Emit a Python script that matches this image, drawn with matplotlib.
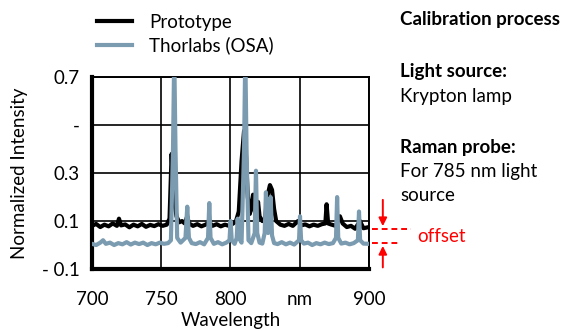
import matplotlib
matplotlib.use("Agg")
import matplotlib.pyplot as plt

plt.rcParams['font.family'] = ['Lato', 'DejaVu Sans']

# spectra (wavelength nm, normalized intensity)
proto_wl = [700, 703, 706, 709, 712, 715, 718, 719.5, 721, 724, 727, 730, 733, 736, 739,
            742, 745, 748, 751, 754, 756, 757.5, 759, 761, 763, 765, 767, 768.8, 770, 773,
            776, 779, 782, 784.7, 787, 790, 793, 796, 799, 802, 804, 806, 808, 809.8, 811,
            812.5, 814, 816.3, 817.5, 819, 819.9, 821, 823, 825, 826.5, 828.5, 830, 831.5,
            833, 836, 839, 842, 845, 848.7, 851, 854, 857, 860, 863, 866, 868.5, 869.4,
            870.5, 873, 876, 879, 881, 884, 887, 890, 893.5, 896, 900]
proto_int = [0.08, 0.088, 0.075, 0.085, 0.078, 0.09, 0.08, 0.11, 0.082, 0.086, 0.074, 0.085,
             0.078, 0.088, 0.076, 0.084, 0.079, 0.087, 0.08, 0.085, 0.11, 0.38, 0.2, 0.12,
             0.095, 0.1, 0.09, 0.12, 0.09, 0.08, 0.087, 0.078, 0.085, 0.095, 0.08, 0.087,
             0.078, 0.085, 0.08, 0.09, 0.1, 0.14, 0.35, 0.476, 0.4, 0.2, 0.13, 0.21, 0.14,
             0.12, 0.18, 0.12, 0.1, 0.11, 0.2, 0.25, 0.23, 0.15, 0.1, 0.085, 0.08, 0.088,
             0.08, 0.1, 0.082, 0.086, 0.078, 0.085, 0.08, 0.087, 0.09, 0.17, 0.09, 0.085,
             0.08, 0.12, 0.09, 0.075, 0.08, 0.068, 0.1, 0.07, 0.075]

osa_wl = [700, 703, 706, 708, 710, 713, 716, 719, 722, 725, 728, 731, 734, 737, 740, 743,
          746, 749, 752, 755, 757, 758.5, 759.4, 760.3, 761.5, 764, 767.5, 768.8, 770, 772,
          775, 778, 781, 783.8, 784.7, 785.6, 788, 791, 794, 797, 799.3, 800.1, 800.9, 803,
          804.5, 805.2, 806, 808, 809.8, 810.7, 811.6, 813, 815, 817.5, 818.4, 819.3, 821,
          823, 824.7, 825.6, 826.5, 827.2, 829, 830, 831.5, 834, 837, 840, 843, 846, 849.5,
          850.2, 851, 853, 856, 859, 862, 865, 868, 871, 874, 876.2, 877, 877.8, 880, 883,
          886, 889, 892, 892.8, 893.6, 896, 900]
osa_int = [0.005, 0.0, 0.01, 0.02, 0.005, 0.01, 0.0, 0.008, 0.003, 0.012, 0.002, 0.01,
           0.004, 0.01, 0.0, 0.008, 0.003, 0.01, 0.005, 0.008, 0.02, 0.4, 0.8, 0.4, 0.03,
           0.01, 0.03, 0.16, 0.03, 0.008, 0.004, 0.012, 0.003, 0.03, 0.175, 0.03, 0.005,
           0.012, 0.003, 0.01, 0.02, 0.1, 0.02, 0.005, 0.03, 0.11, 0.03, 0.01, 0.4, 0.8,
           0.4, 0.02, 0.008, 0.05, 0.31, 0.05, 0.01, 0.006, 0.05, 0.22, 0.06, 0.05, 0.2,
           0.04, 0.008, 0.004, 0.012, 0.003, 0.01, 0.002, 0.02, 0.12, 0.02, 0.006, 0.01,
           0.0, 0.008, 0.003, 0.01, 0.004, 0.008, 0.03, 0.2, 0.03, 0.006, 0.01, 0.003,
           0.008, 0.02, 0.14, 0.02, 0.006, 0.005]

x_ticks = [700, 750, 800, 850, 900]
x_labels = ["700", "750", "800", "nm", "900"]
y_ticks = [-0.1, 0.1, 0.3, 0.5, 0.7]
y_labels = ["- 0.1", "0.1", "0.3", "-", "0.7"]

osa_color = "#7b9bb0"
fs = 13.5

fig = plt.figure(figsize=(5.66, 3.31), dpi=100)
ax = fig.add_axes([0.1625, 0.1873, 0.4894, 0.5794])

ax.plot(proto_wl, proto_int, color="black", lw=3, label="Prototype", zorder=3)
ax.plot(osa_wl, osa_int, color=osa_color, lw=3, label="Thorlabs (OSA)", zorder=4)

ax.set_xlim(700, 900)
ax.set_ylim(-0.1, 0.7)
ax.set_xticks(x_ticks)
ax.set_xticklabels(x_labels)
ax.set_yticks(y_ticks)
ax.set_yticklabels(y_labels)
ax.tick_params(length=0, labelsize=fs)
ax.tick_params(axis="x", pad=16)
ax.tick_params(axis="y", pad=9)
ax.grid(True, color="black", lw=1.2)
ax.set_axisbelow(True)
for s in ["top", "right"]:
    ax.spines[s].set_linewidth(1.4)
for s in ["left", "bottom"]:
    ax.spines[s].set_linewidth(3)
ax.set_xlabel("Wavelength", fontsize=fs, labelpad=3)
ax.set_ylabel("Normalized Intensity", fontsize=fs, labelpad=10)

leg = ax.legend(loc="lower left", bbox_to_anchor=(-0.01, 1.08), frameon=False, fontsize=fs,
                handlelength=1.9, handletextpad=0.9, labelspacing=0.3, borderaxespad=0)

# offset annotation to the right of the plot
red = "#ff0000"
ax.plot([902, 930], [0.067, 0.067], color=red, ls=(0, (3, 2)), lw=1.4, clip_on=False)
ax.plot([902, 921], [0.008, 0.008], color=red, ls=(0, (3, 2)), lw=1.4, clip_on=False)
ax.annotate("", xy=(910, 0.067), xytext=(910, 0.2), annotation_clip=False,
            arrowprops=dict(arrowstyle="-|>", color=red, lw=1.4, mutation_scale=12))
ax.annotate("", xy=(910, 0.008), xytext=(910, -0.105), annotation_clip=False,
            arrowprops=dict(arrowstyle="-|>", color=red, lw=1.4, mutation_scale=12))
ax.text(935, 0.037, "offset", color=red, fontsize=fs, va="center", ha="left")

fig.text(0.707, 0.94, "Calibration process", fontsize=fs, fontweight="bold", va="center")
fig.text(0.707, 0.783, "Light source:", fontsize=fs, fontweight="bold", va="center")
fig.text(0.707, 0.708, "Krypton lamp", fontsize=fs, va="center")
fig.text(0.707, 0.553, "Raman probe:", fontsize=fs, fontweight="bold", va="center")
fig.text(0.707, 0.481, "For 785 nm light", fontsize=fs, va="center")
fig.text(0.707, 0.41, "source", fontsize=fs, va="center")

fig.savefig("out.png", dpi=100)
